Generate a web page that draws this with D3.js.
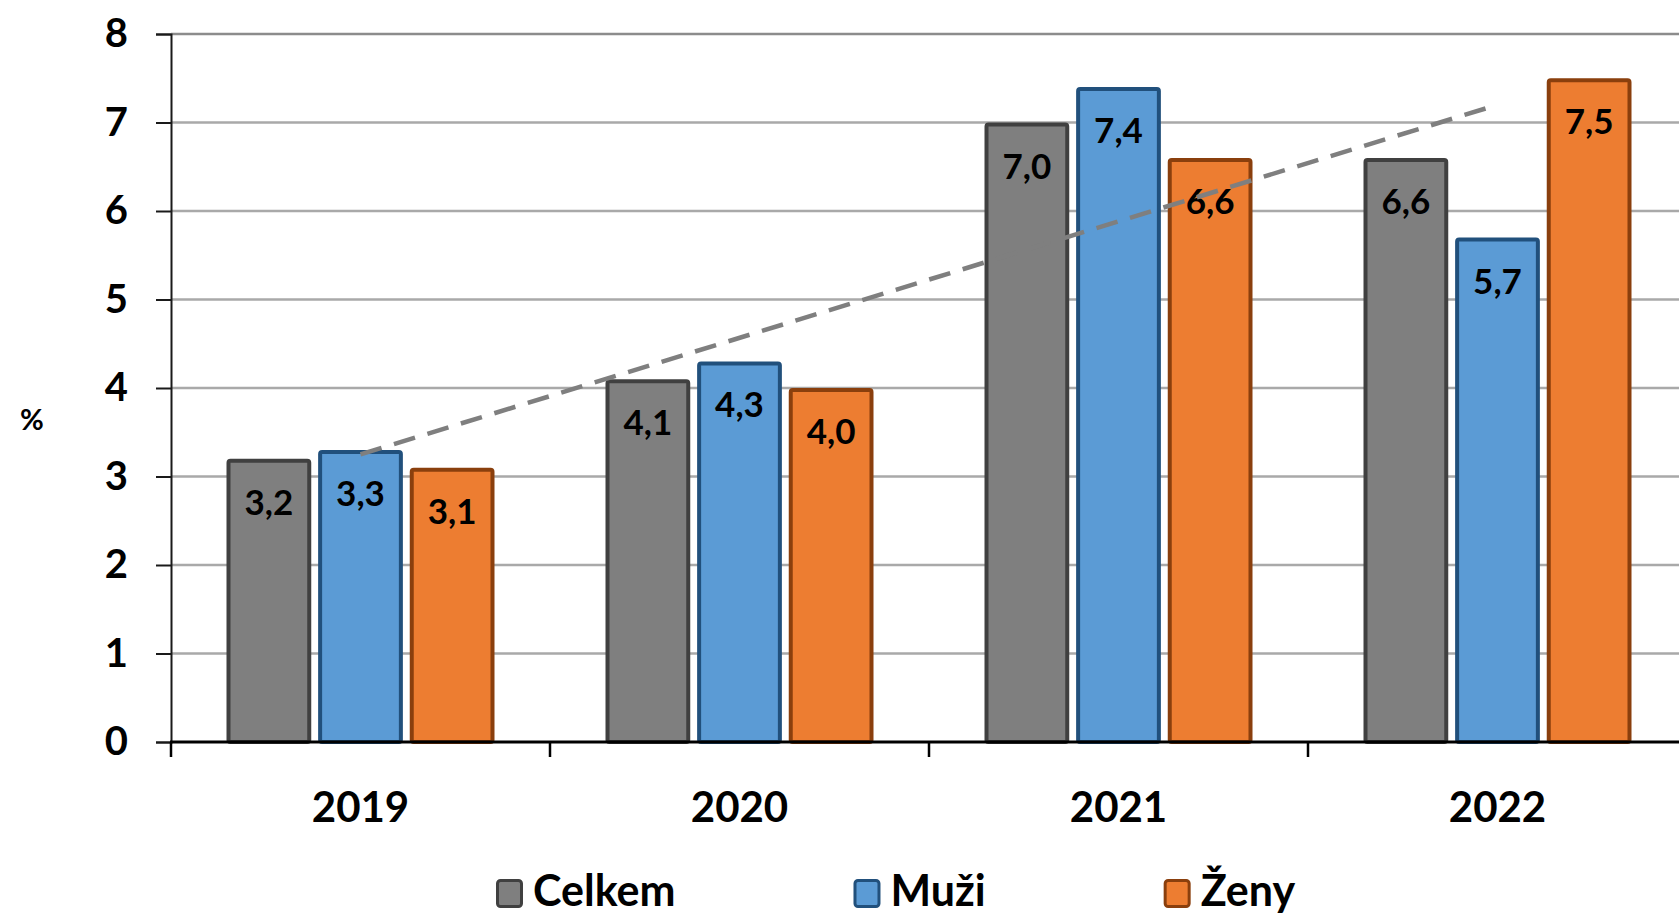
<!DOCTYPE html>
<html lang="cs">
<head>
<meta charset="utf-8">
<title>Celkem / Muži / Ženy</title>
<script src="https://cdn.jsdelivr.net/npm/d3@7/dist/d3.min.js"></script>
<style>
  body { margin: 0; background: #fff; }
  svg { display: block; font-family: Lato, "Noto Sans", sans-serif; font-weight: bold; }
</style>
</head>
<body>
<script>
// data
var years = ["2019", "2020", "2021", "2022"];
var seriesNames = ["Celkem", "Muži", "Ženy"];
var celkem = [3.2, 4.1, 7.0, 6.6];
var muzi = [3.3, 4.3, 7.4, 5.7];
var zeny = [3.1, 4.0, 6.6, 7.5];
var yTicks = [0, 1, 2, 3, 4, 5, 6, 7, 8];
// linear trend of Celkem, value at 2019 and at 2022
var trendValues = [3.25, 7.2];

var fills = ["#7f7f7f", "#5b9bd5", "#ed7d31"];
var strokes = ["#404040", "#21507c", "#8a3f0d"];

var w = 1679, h = 914;
var plotLeft = 171, plotTop = 34, plotBottom = 742;

var svg = d3.select("body").append("svg")
    .attr("width", w)
    .attr("height", h);

var x0 = d3.scaleBand().domain(years).range([plotLeft, plotLeft + 4 * 379]).padding(0);
var groupW = 268;
var x1 = d3.scaleBand().domain(seriesNames).range([0, groupW]).paddingInner(0.075).paddingOuter(0);
var y = d3.scaleLinear().domain([0, 8]).range([plotBottom, plotTop]);

// gridlines
svg.append("g").selectAll("line")
    .data(yTicks.filter(function(d) { return d > 0; }))
    .enter().append("line")
    .attr("x1", plotLeft).attr("x2", w)
    .attr("y1", function(d) { return y(d); })
    .attr("y2", function(d) { return y(d); })
    .attr("stroke", function(d) { return d === 8 ? "#8c8c8c" : "#a9a9a9"; })
    .attr("stroke-width", 2.5);

// y axis
var yAxis = svg.append("g")
    .attr("transform", "translate(" + plotLeft + ",0)")
    .call(d3.axisLeft(y).tickValues(yTicks).tickSize(15).tickPadding(28).tickFormat(d3.format("d")));
yAxis.select(".domain").attr("stroke", "#1a1a1a").attr("stroke-width", 2);
yAxis.selectAll(".tick line").attr("stroke", "#1a1a1a").attr("stroke-width", 2);
yAxis.selectAll("text").attr("font-size", 40).attr("fill", "#000")
    .attr("font-family", "Lato, 'Noto Sans', sans-serif").attr("font-weight", "bold");

svg.append("text")
    .attr("x", 32).attr("y", 430)
    .attr("text-anchor", "middle")
    .attr("font-size", 29)
    .text("%");

// bars
var rows = years.map(function(yr, i) {
    return { year: yr, values: [celkem[i], muzi[i], zeny[i]] };
});
var sw = 4;
var groups = svg.append("g").selectAll("g")
    .data(rows)
    .enter().append("g")
    .attr("transform", function(d) {
        return "translate(" + (x0(d.year) + (x0.bandwidth() - groupW) / 2) + ",0)";
    });

groups.selectAll("rect")
    .data(function(d) { return d.values.map(function(v, j) { return { s: seriesNames[j], j: j, v: v }; }); })
    .enter().append("rect")
    .attr("x", function(d) { return x1(d.s) + sw / 2; })
    .attr("y", function(d) { return y(d.v) + sw / 2; })
    .attr("width", x1.bandwidth() - sw)
    .attr("height", function(d) { return plotBottom - y(d.v) - sw / 2; })
    .attr("rx", 2)
    .attr("fill", function(d) { return fills[d.j]; })
    .attr("stroke", function(d) { return strokes[d.j]; })
    .attr("stroke-width", sw);

groups.selectAll("text")
    .data(function(d) { return d.values.map(function(v, j) { return { s: seriesNames[j], j: j, v: v }; }); })
    .enter().append("text")
    .attr("x", function(d) { return x1(d.s) + x1.bandwidth() / 2; })
    .attr("y", function(d) { return y(d.v) + 56; })
    .attr("text-anchor", "middle")
    .attr("font-size", 35)
    .attr("fill", "#000")
    .text(function(d) { return d3.format(".1f")(d.v).replace(".", ","); });

// trend line (dashed)
svg.append("line")
    .attr("x1", x0(years[0]) + x0.bandwidth() / 2)
    .attr("x2", x0(years[3]) + x0.bandwidth() / 2)
    .attr("y1", y(trendValues[0]))
    .attr("y2", y(trendValues[1]))
    .attr("stroke", "#7f7f7f")
    .attr("stroke-width", 4.5)
    .attr("stroke-dasharray", "22,13");

// x axis
var xAxis = svg.append("g")
    .attr("transform", "translate(0," + plotBottom + ")")
    .call(d3.axisBottom(x0).tickSize(0).tickPadding(50));
xAxis.select(".domain").remove();
xAxis.selectAll("text").attr("font-size", 42).attr("fill", "#000")
    .attr("font-family", "Lato, 'Noto Sans', sans-serif").attr("font-weight", "bold");
svg.append("line")
    .attr("x1", plotLeft - 1).attr("x2", w)
    .attr("y1", plotBottom).attr("y2", plotBottom)
    .attr("stroke", "#000").attr("stroke-width", 3);
svg.append("g").selectAll("line")
    .data(years)
    .enter().append("line")
    .attr("x1", function(d) { return x0(d); })
    .attr("x2", function(d) { return x0(d); })
    .attr("y1", plotBottom).attr("y2", plotBottom + 15)
    .attr("stroke", "#000").attr("stroke-width", 2.5);

// legend
var lx = 496;
seriesNames.forEach(function(name, j) {
    var g = svg.append("g").attr("transform", "translate(" + lx + ",0)");
    g.append("rect")
        .attr("x", 1.5).attr("y", 880.5)
        .attr("width", 24).attr("height", 26)
        .attr("rx", 3)
        .attr("fill", fills[j])
        .attr("stroke", strokes[j])
        .attr("stroke-width", 3);
    var t = g.append("text")
        .attr("x", 37).attr("y", 906)
        .attr("font-size", 43)
        .text(name);
    lx += 37 + t.node().getComputedTextLength() + 178;
});
</script>
</body>
</html>
